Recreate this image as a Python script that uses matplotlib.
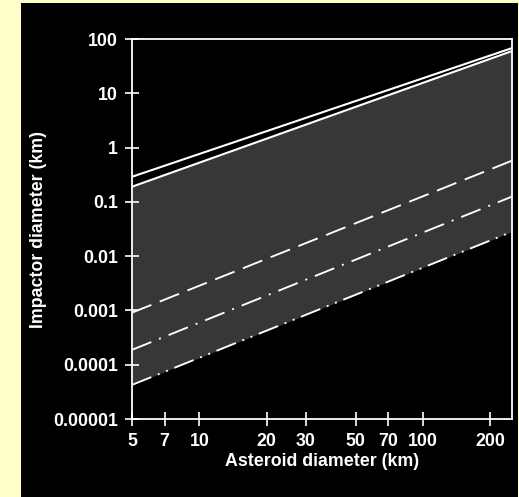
import matplotlib
matplotlib.use("Agg")
import matplotlib.pyplot as plt
from matplotlib.patches import Rectangle
import numpy as np

# Data (endpoints of straight log-log lines)
asteroid_d = [5, 250]
upper_solid = [0.29, 68]
lower_solid = [0.19, 60]
dashed = [0.00091, 0.574]
dashdot = [0.000188, 0.125]
dashdotdot = [4.25e-5, 0.0282]

x_ticks = [5, 7, 10, 20, 30, 50, 70, 100, 200]
x_tick_labels = ["5", "7", "10", "20", "30", "50", "70", "100", "200"]
y_ticks = [1e-5, 1e-4, 1e-3, 1e-2, 0.1, 1, 10, 100]
y_tick_labels = ["0.00001", "0.0001", "0.001", "0.01", "0.1", "1", "10", "100"]

plt.rcParams['font.family'] = ['Liberation Sans', 'DejaVu Sans']
plt.rcParams['lines.scale_dashes'] = False

W, H = 519, 497
fig = plt.figure(figsize=(W / 100, H / 100), dpi=100, facecolor='#FFFFCC')

# black panel
fig.patches.append(Rectangle((21 / W, 0), (518 - 21) / W, 1 - 3 / H,
                             transform=fig.transFigure, facecolor='black',
                             edgecolor='none', zorder=-10))

ax = fig.add_axes([132 / W, 1 - 419 / H, (512 - 132) / W, (419 - 39) / H])
ax.set_zorder(5)
ax.set_facecolor('black')
ax.set_xscale('log')
ax.set_yscale('log')
ax.set_xlim(5, 250)
ax.set_ylim(1e-5, 100)

ax.fill_between(asteroid_d, dashdotdot, lower_solid, color='#373737', lw=0, zorder=1)

lw = 1.5
ax.plot(asteroid_d, upper_solid, color='white', lw=lw, zorder=3)
ax.plot(asteroid_d, lower_solid, color='white', lw=lw, zorder=3)
ax.plot(asteroid_d, dashed, color='white', lw=lw * 0.9, dashes=(15, 6.5), zorder=3)
ax.plot(asteroid_d, dashdot, color='white', lw=lw * 0.9, dashes=(15, 6, 1.4, 6), zorder=3)
ax.plot(asteroid_d, dashdotdot, color='white', lw=lw * 0.9,
        dashes=(15, 5, 1.4, 5, 1.4, 5), zorder=3)

for s in ax.spines.values():
    s.set_color('white')
    s.set_linewidth(1.3)

ax.set_xticks(x_ticks)
ax.set_xticklabels(x_tick_labels)
ax.set_yticks(y_ticks)
ax.set_yticklabels(y_tick_labels)
ax.minorticks_off()
ax.tick_params(axis='both', which='major', direction='inout', length=9.5,
               width=1.2, color='white', labelcolor='white', labelsize=12.8)
ax.tick_params(axis='x', pad=5.5)
ax.tick_params(axis='y', pad=5.5)
for lab in ax.get_xticklabels() + ax.get_yticklabels():
    lab.set_fontweight('bold')

ax.set_xlabel('Asteroid diameter (km)', color='white', fontsize=12.8,
              fontweight='bold', labelpad=2)
ax.set_ylabel('Impactor diameter (km)', color='white', fontsize=12.8,
              fontweight='bold', labelpad=4)

fig.savefig('out.png', dpi=100, facecolor=fig.get_facecolor())
